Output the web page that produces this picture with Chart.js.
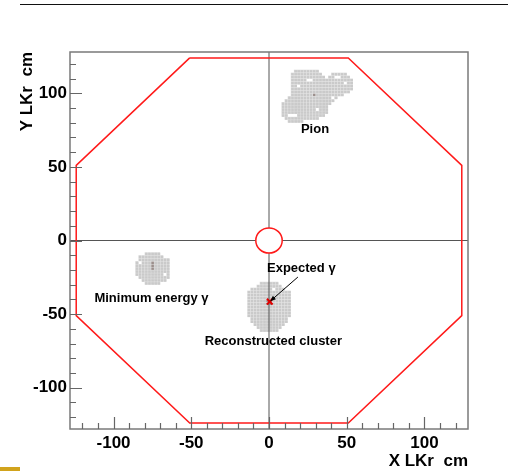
<!DOCTYPE html>
<html>
<head>
<meta charset="utf-8">
<script src="https://cdn.jsdelivr.net/npm/chart.js@4.4.1/dist/chart.umd.min.js"></script>
<style>
  html, body { margin: 0; padding: 0; background: #fff; overflow: hidden; }
  #wrap { width: 508px; height: 473px; position: relative; }
</style>
</head>
<body>
<div id="wrap"><canvas id="myChart"></canvas></div>
<script>
const FONT = "'Liberation Sans', Arial, Helvetica, sans-serif";

// LKr octagon outline, cm
const octX = [-51, 51, 124, 124, 51, -51, -124, -124, -51];
const octY = [124, 124, 51, -51, -124, -124, -51, 51, 124];
// beam pipe hole radius, cm
const beamHoleR = [8.5];

const majorTicks = [-100, -50, 0, 50, 100];
const minorTicks = [-120, -110, -100, -90, -80, -70, -60, -50, -40, -30, -20, -10, 0,
                    10, 20, 30, 40, 50, 60, 70, 80, 90, 100, 110, 120];

// cell rows: [y, xFirst, xLast] (cell lower-left corners, cm)
const cellSize = 2;
const pionRows = [
  [114, 16, 30],
  [112, 14, 32], [112, 40, 48],
  [110, 14, 34], [110, 38, 50],
  [108, 14, 52], [106, 14, 52], [104, 14, 52], [102, 14, 52],
  [100, 14, 50], [98, 14, 46], [96, 12, 42], [94, 10, 40], [92, 8, 38],
  [90, 8, 36], [88, 8, 36], [86, 8, 36], [84, 8, 34], [82, 10, 30], [80, 12, 20]
];
const pionHoles = [[24, 108], [26, 108], [18, 104], [42, 110], [44, 110], [48, 106],
                   [40, 96], [30, 88], [12, 84], [14, 84], [16, 84]];
const pionSeed = [[28, 98]];

const gammaRows = [
  [-10, -80, -72], [-12, -84, -68], [-14, -84, -66], [-16, -86, -66], [-18, -86, -66],
  [-20, -86, -66], [-22, -86, -66], [-24, -86, -66], [-26, -84, -66], [-28, -82, -68],
  [-30, -80, -72]
];
const gammaHoles = [[-84, -16], [-68, -24], [-68, -12]];
const gammaSeed = [[-76, -16], [-76, -18], [-76, -20]];

const recoRows = [
  [-30, -6, 4], [-32, -8, 6], [-34, -12, 8], [-36, -14, 12], [-38, -14, 12],
  [-40, -14, 12], [-42, -14, 12], [-44, -14, 12], [-46, -14, 12], [-48, -14, 12],
  [-50, -14, 12], [-52, -14, 12], [-54, -12, 10], [-56, -12, 10], [-58, -10, 8],
  [-60, -8, 6], [-62, -6, 4]
];
const recoHoles = [[2, -34]];
const recoSeed = [[-2, -42], [0, -42], [-2, -44], [0, -44]];

// expected photon impact point and arrow from its label
const expX = [0.5];
const expY = [-41.5];
const arrowX = [18.6, 0.8];
const arrowY = [-24.8, -41.2];

const labelTexts = ['Pion', 'Minimum energy \u03b3', 'Expected \u03b3', 'Reconstructed cluster'];
const labelX = [29.6, -75.6, -1.3, 2.8];
const labelY = [75.7, -39, -19, -68.2];

function toPoints(xs, ys) {
  return xs.map((x, i) => ({ x: x, y: ys[i] }));
}

function drawCluster(ctx, sx, sy, rows, holes, seeds) {
  const isHole = (x, y) => holes.some(h => h[0] === x && h[1] === y);
  const isSeed = (x, y) => seeds.some(h => h[0] === x && h[1] === y);
  rows.forEach(r => {
    for (let x = r[1]; x <= r[2]; x += cellSize) {
      if (isHole(x, r[0])) continue;
      const x0 = sx.getPixelForValue(x), x1 = sx.getPixelForValue(x + cellSize);
      const y0 = sy.getPixelForValue(r[0] + cellSize), y1 = sy.getPixelForValue(r[0]);
      ctx.fillStyle = '#dcdcdc';
      ctx.fillRect(x0, y0, x1 - x0, y1 - y0);
      ctx.fillStyle = isSeed(x, r[0]) ? '#9c8f8c' : '#cacaca';
      ctx.fillRect(x0 + 0.5, y0 + 0.5, x1 - x0 - 0.5, y1 - y0 - 0.5);
    }
  });
}

const lkrPlugin = {
  id: 'lkr',
  beforeDraw(chart) {
    const ctx = chart.ctx;
    ctx.save();
    ctx.fillStyle = '#fff';
    ctx.fillRect(0, 0, chart.width, chart.height);
    // slide decorations
    ctx.fillStyle = '#111';
    ctx.fillRect(20, 4, chart.width - 20, 1);
    ctx.fillStyle = '#d1a31c';
    ctx.fillRect(0, 467, 20, 4);
    ctx.restore();
  },
  beforeDatasetsDraw(chart) {
    const ctx = chart.ctx, sx = chart.scales.x, sy = chart.scales.y;
    ctx.save();
    drawCluster(ctx, sx, sy, pionRows, pionHoles, pionSeed);
    drawCluster(ctx, sx, sy, gammaRows, gammaHoles, gammaSeed);
    drawCluster(ctx, sx, sy, recoRows, recoHoles, recoSeed);
    ctx.restore();
  },
  afterDatasetsDraw(chart) {
    const ctx = chart.ctx, sx = chart.scales.x, sy = chart.scales.y;
    const a = chart.chartArea;
    ctx.save();
    // beam hole
    const cx = sx.getPixelForValue(0), cy = sy.getPixelForValue(0);
    const rx = Math.abs(sx.getPixelForValue(beamHoleR[0]) - cx);
    const ry = Math.abs(sy.getPixelForValue(beamHoleR[0]) - cy);
    ctx.beginPath();
    ctx.ellipse(cx, cy, rx, ry, 0, 0, Math.PI * 2);
    ctx.fillStyle = '#fff';
    ctx.fill();
    ctx.strokeStyle = '#ff1a1a';
    ctx.lineWidth = 1.5;
    ctx.stroke();

    // arrow head
    const ax0 = sx.getPixelForValue(arrowX[0]), ay0 = sy.getPixelForValue(arrowY[0]);
    const ax1 = sx.getPixelForValue(arrowX[1]), ay1 = sy.getPixelForValue(arrowY[1]);
    const ang = Math.atan2(ay1 - ay0, ax1 - ax0);
    ctx.beginPath();
    ctx.moveTo(ax1, ay1);
    ctx.lineTo(ax1 - 6 * Math.cos(ang - 0.4), ay1 - 6 * Math.sin(ang - 0.4));
    ctx.lineTo(ax1 - 6 * Math.cos(ang + 0.4), ay1 - 6 * Math.sin(ang + 0.4));
    ctx.closePath();
    ctx.fillStyle = '#000';
    ctx.fill();

    // labels
    ctx.font = 'bold 13px ' + FONT;
    ctx.fillStyle = '#000';
    ctx.textBaseline = 'middle';
    labelTexts.forEach((t, i) => {
      ctx.textAlign = i === 2 ? 'left' : 'center';
      ctx.fillText(t, sx.getPixelForValue(labelX[i]), sy.getPixelForValue(labelY[i]));
    });

    // frame and inside ticks
    ctx.strokeStyle = '#7a7a7a';
    ctx.lineWidth = 1.5;
    ctx.strokeRect(a.left, a.top, a.right - a.left, a.bottom - a.top);
    ctx.strokeStyle = '#666';
    ctx.lineWidth = 1.2;
    ctx.beginPath();
    minorTicks.forEach(v => {
      const len = majorTicks.includes(v) ? 12 : 6;
      const px = Math.round(sx.getPixelForValue(v)) + 0.5;
      ctx.moveTo(px, a.bottom);
      ctx.lineTo(px, a.bottom - len);
      const py = Math.round(sy.getPixelForValue(v)) + 0.5;
      ctx.moveTo(a.left, py);
      ctx.lineTo(a.left + len, py);
    });
    ctx.stroke();
    ctx.restore();
  }
};

function axisOptions(title, isX) {
  return {
    type: 'linear',
    min: -128,
    max: 128,
    grid: { display: false, drawTicks: false },
    border: { display: false },
    afterBuildTicks: scale => { scale.ticks = minorTicks.map(v => ({ value: v })); },
    afterFit: scale => {
      if (isX) scale.height = 44; else scale.width = 70;
    },
    ticks: {
      autoSkip: false,
      maxRotation: 0,
      padding: isX ? 4 : 3,
      color: '#000',
      font: { family: FONT, size: 17, weight: 'bold' },
      callback: v => majorTicks.includes(v) ? String(v) : ''
    },
    title: {
      display: true,
      text: title,
      align: 'end',
      color: '#000',
      font: { family: FONT, size: 17, weight: 'bold' },
      padding: isX ? { top: 0, bottom: 1 } : { top: 17, bottom: 0 }
    }
  };
}

new Chart(document.getElementById('myChart').getContext('2d'), {
  type: 'scatter',
  data: {
    datasets: [
      {
        data: toPoints(expX, expY),
        pointStyle: 'crossRot',
        pointRadius: 4,
        borderColor: '#e00000',
        borderWidth: 2,
        order: 0
      },
      {
        data: toPoints(arrowX, arrowY),
        showLine: true,
        borderColor: '#000',
        borderWidth: 1,
        pointRadius: 0,
        order: 1
      },
      {
        data: toPoints(octX, octY),
        showLine: true,
        borderColor: '#ff1a1a',
        borderWidth: 1.5,
        pointRadius: 0,
        tension: 0,
        order: 2
      },
      {
        data: toPoints([0, 0], [-128, 128]),
        showLine: true,
        borderColor: '#555',
        borderWidth: 1,
        pointRadius: 0,
        order: 3
      },
      {
        data: toPoints([-128, 128], [0, 0]),
        showLine: true,
        borderColor: '#555',
        borderWidth: 1,
        pointRadius: 0,
        order: 4
      }
    ]
  },
  plugins: [lkrPlugin],
  options: {
    responsive: true,
    maintainAspectRatio: false,
    animation: false,
    layout: { padding: { left: 0, top: 52, right: 40, bottom: 0 } },
    plugins: {
      legend: { display: false },
      tooltip: { enabled: false }
    },
    scales: {
      x: axisOptions('X LKr  cm', true),
      y: axisOptions('Y LKr  cm', false)
    }
  }
});
</script>
</body>
</html>
